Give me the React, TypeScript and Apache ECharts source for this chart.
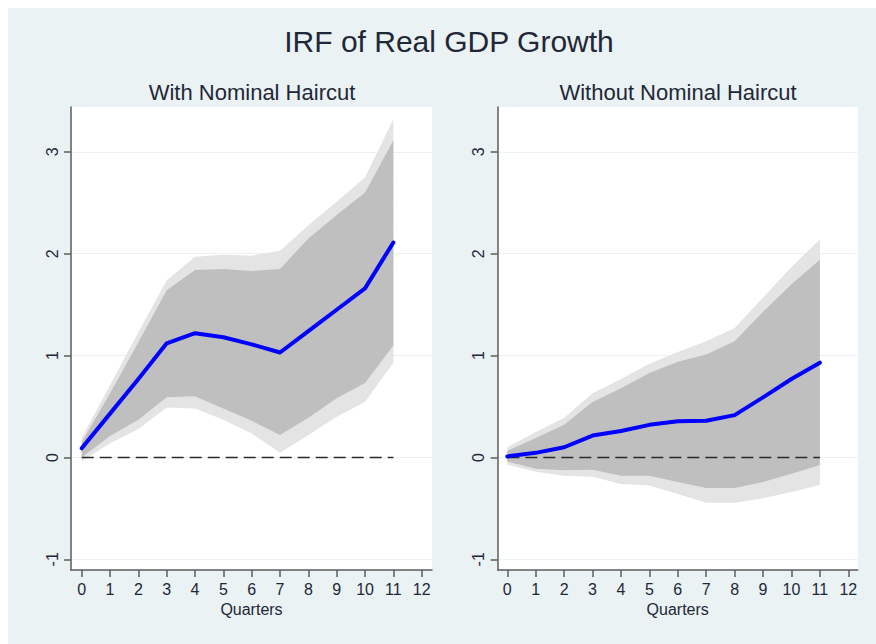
import React, { useEffect, useRef } from "react";
import * as echarts from "echarts";

const quarters = [0, 1, 2, 3, 4, 5, 6, 7, 8, 9, 10, 11];
const xTicks = [0, 1, 2, 3, 4, 5, 6, 7, 8, 9, 10, 11, 12];
const yTicks = [-1, 0, 1, 2, 3];

// Left panel: With Nominal Haircut
const irfWith = [0.09, 0.43, 0.77, 1.12, 1.22, 1.18, 1.11, 1.03, 1.24, 1.45, 1.66, 2.11];
const darkHiWith = [0.15, 0.63, 1.13, 1.64, 1.84, 1.85, 1.83, 1.85, 2.15, 2.38, 2.6, 3.11];
const darkLoWith = [0.0, 0.21, 0.37, 0.59, 0.6, 0.48, 0.36, 0.22, 0.39, 0.58, 0.73, 1.1];
const lightHiWith = [0.19, 0.71, 1.23, 1.74, 1.97, 1.99, 1.98, 2.03, 2.28, 2.51, 2.75, 3.32];
const lightLoWith = [-0.04, 0.14, 0.28, 0.49, 0.48, 0.37, 0.235, 0.045, 0.22, 0.4, 0.545, 0.93];

// Right panel: Without Nominal Haircut
const irfWithout = [0.01, 0.045, 0.1, 0.215, 0.26, 0.32, 0.355, 0.36, 0.415, 0.59, 0.77, 0.93];
const darkHiWithout = [0.065, 0.19, 0.32, 0.545, 0.68, 0.83, 0.94, 1.01, 1.14, 1.43, 1.7, 1.94];
const darkLoWithout = [-0.04, -0.11, -0.125, -0.12, -0.18, -0.18, -0.24, -0.3, -0.3, -0.24, -0.16, -0.075];
const lightHiWithout = [0.1, 0.25, 0.39, 0.63, 0.77, 0.92, 1.035, 1.14, 1.27, 1.57, 1.87, 2.14];
const lightLoWithout = [-0.07, -0.14, -0.18, -0.19, -0.26, -0.275, -0.36, -0.445, -0.445, -0.4, -0.34, -0.27];

const zeroLine = [0, 0];
const zeroSpan = [0, 11];

const FONT = "'Liberation Sans', Arial, sans-serif";
const TEXT = "#1f2738";
const BG = "#eaf2f3";
const AXIS = "#5c5c5c";

function bandSeries(idx: number, hi: number[], lo: number[], color: string, z: number) {
  return {
    type: "custom",
    xAxisIndex: idx,
    yAxisIndex: idx,
    z,
    silent: true,
    clip: true,
    data: [[quarters[0], lo[0]]],
    renderItem: (params: any, api: any) => {
      if (params.dataIndex !== 0) return null;
      const top = quarters.map((q, i) => api.coord([q, hi[i]]));
      const bot = quarters.map((q, i) => api.coord([q, lo[i]])).reverse();
      return {
        type: "polygon",
        shape: { points: top.concat(bot) },
        style: { fill: color, stroke: null },
      };
    },
  };
}

function makeXAxis(idx: number, min: number, max: number) {
  return {
    type: "value",
    gridIndex: idx,
    min,
    max,
    name: "Quarters",
    nameLocation: "middle",
    nameGap: 24,
    nameTextStyle: { fontFamily: FONT, fontSize: 16, color: TEXT },
    axisLine: { show: true, onZero: false, lineStyle: { color: AXIS, width: 1.5 } },
    axisTick: { show: true, length: 7, customValues: xTicks, lineStyle: { color: AXIS, width: 1.5 } },
    axisLabel: { customValues: xTicks, margin: 11, fontFamily: FONT, fontSize: 16, color: TEXT },
    splitLine: { show: false },
  };
}

function makeYAxis(idx: number) {
  return {
    type: "value",
    gridIndex: idx,
    min: -1.105,
    max: 3.44,
    axisLine: { show: true, onZero: false, lineStyle: { color: AXIS, width: 1.5 } },
    axisTick: { show: true, length: 7, customValues: yTicks, lineStyle: { color: AXIS, width: 1.5 } },
    axisLabel: { customValues: yTicks, rotate: 90, margin: 11, fontFamily: FONT, fontSize: 16, color: TEXT },
    splitLine: { show: true, lineStyle: { color: BG, width: 1.2 } },
  };
}

function panelSeries(idx: number, irf: number[], dHi: number[], dLo: number[], lHi: number[], lLo: number[]) {
  return [
    bandSeries(idx, lHi, lLo, "#e4e4e4", 1),
    bandSeries(idx, dHi, dLo, "#bfbfbf", 2),
    {
      type: "line",
      xAxisIndex: idx,
      yAxisIndex: idx,
      z: 3,
      symbol: "none",
      silent: true,
      data: zeroSpan.map((x, i) => [x, zeroLine[i]]),
      lineStyle: { color: "#2a2a2a", width: 1.6, type: [12, 6] },
    },
    {
      type: "line",
      xAxisIndex: idx,
      yAxisIndex: idx,
      z: 4,
      symbol: "none",
      silent: true,
      data: quarters.map((q, i) => [q, irf[i]]),
      lineStyle: { color: "#0000ff", width: 4, join: "round", cap: "round" },
    },
  ];
}

export default function App() {
  const ref = useRef<HTMLDivElement>(null);
  useEffect(() => {
    if (!ref.current) return;
    const chart = echarts.init(ref.current, null, { renderer: "svg" });
    chart.setOption({
      animation: false,
      backgroundColor: BG,
      grid: [
        { left: 63, right: 444, top: 99, bottom: 74, show: true, backgroundColor: "#ffffff", borderWidth: 0 },
        { left: 489.7, right: 18.3, top: 99, bottom: 74, show: true, backgroundColor: "#ffffff", borderWidth: 0 },
      ],
      xAxis: [makeXAxis(0, -0.378, 12.364), makeXAxis(1, -0.338, 12.33)],
      yAxis: [makeYAxis(0), makeYAxis(1)],
      graphic: [
        {
          type: "text",
          x: 441,
          y: 33,
          style: { text: "IRF of Real GDP Growth", fontFamily: FONT, fontSize: 30, fill: TEXT, textAlign: "center", textVerticalAlign: "middle" },
        },
        {
          type: "text",
          x: 244,
          y: 84,
          style: { text: "With Nominal Haircut", fontFamily: FONT, fontSize: 22, fill: TEXT, textAlign: "center", textVerticalAlign: "middle" },
        },
        {
          type: "text",
          x: 670,
          y: 84,
          style: { text: "Without Nominal Haircut", fontFamily: FONT, fontSize: 22, fill: TEXT, textAlign: "center", textVerticalAlign: "middle" },
        },
      ],
      series: [
        ...panelSeries(0, irfWith, darkHiWith, darkLoWith, lightHiWith, lightLoWith),
        ...panelSeries(1, irfWithout, darkHiWithout, darkLoWithout, lightHiWithout, lightLoWithout),
      ],
    });
    return () => chart.dispose();
  }, []);
  return (
    <div
      ref={ref}
      style={{ position: "absolute", left: 8, top: 8, width: 868, height: 636 }}
    />
  );
}
